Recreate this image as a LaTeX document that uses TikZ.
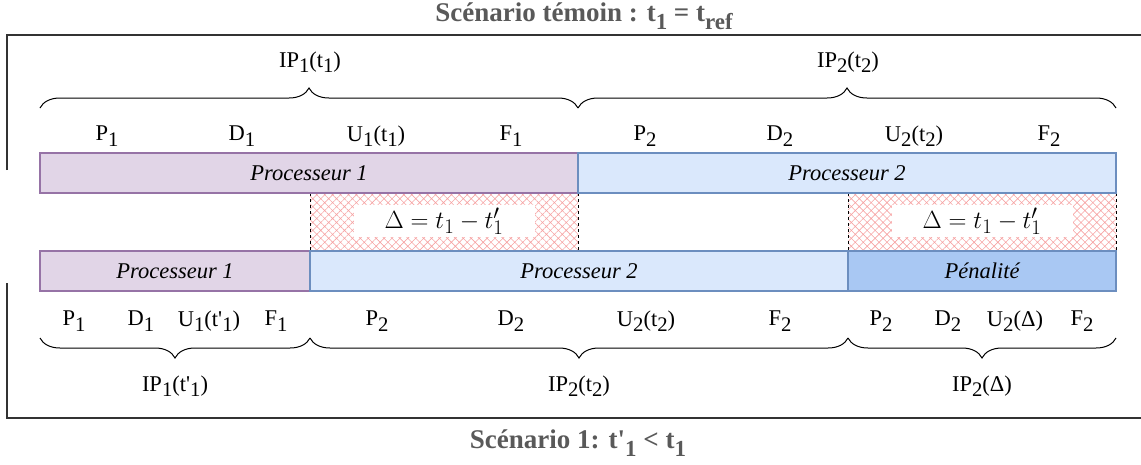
\documentclass[tikz,border=0pt]{standalone}
\usepackage{fontspec}
\setmainfont{Liberation Serif}
\usepackage{graphicx}
\usetikzlibrary{patterns.meta,decorations.pathreplacing}
\definecolor{purfill}{HTML}{E1D5E7}
\definecolor{purdraw}{HTML}{9673A6}
\definecolor{bluefill}{HTML}{DAE8FC}
\definecolor{bluedraw}{HTML}{6C8EBF}
\definecolor{penfill}{HTML}{A9C8F3}
\definecolor{hatchred}{HTML}{F6A3A3}
\definecolor{titlegray}{HTML}{595959}
\definecolor{framegray}{HTML}{333333}
\newcommand\lsub[1]{\raisebox{-0.24em}{\scalebox{0.92}{#1}}}
\newcommand\tsub[1]{\raisebox{-0.3em}{\scalebox{0.85}{#1}}}
\begin{document}
\begin{tikzpicture}[x=1pt,y=-1pt,
  bar/.style={draw, line width=1.1pt, minimum height=40pt, inner sep=0pt, outer sep=0pt, anchor=north west, font=\fontsize{22.5}{26}\selectfont\itshape},
  proc1/.style={bar, fill=purfill, draw=purdraw},
  proc2/.style={bar, fill=bluefill, draw=bluedraw},
  pen/.style={bar, fill=penfill, draw=bluedraw},
  lbl/.style={font=\fontsize{22.5}{26}\selectfont, inner sep=1pt},
  ttl/.style={font=\fontsize{27}{31}\selectfont\bfseries, text=titlegray},
  frame/.style={draw=framegray, line width=1.3pt},
  brc/.style={decorate, decoration={brace, amplitude=20pt}, line width=1pt},
  brcd/.style={brc, decoration={mirror}},
  hatch/.style={pattern={Hatch[angle=45,distance=5.6pt,line width=0.6pt]}, pattern color=hatchred},
  sep/.style={dashed, line width=0.8pt},
  delta/.style={fill=white, minimum width=181pt, minimum height=32pt, inner sep=0pt, font=\fontsize{24.88}{28}\selectfont}
]
\useasboundingbox (0,0) rectangle (1141,464);
% titles
\node[ttl] (ttop) at (584,16) {Scénario témoin : t\tsub{1} = t\tsub{ref}};
\node[ttl] (tbot) at (578,443) {Scénario 1: t\textquotesingle\tsub{1} < t\tsub{1}};
% frames
\draw[frame] (7,170) -- (7,35) -- (1141,35);
\draw[frame] (7,283) -- (7,418) -- (1141,418);
% hatched zones
\fill[hatch] (310,193) rectangle (578,251);
\fill[hatch] (848,193) rectangle (1116,251);
\draw[sep] (310,193) -- (310,251);
\draw[sep] (578,193) -- (578,251);
\draw[sep] (848,193) -- (848,251);
\draw[sep] (1116,193) -- (1116,251);
\node[delta] (d1) at (444,221) {$\Delta = t_1 - t'_1$};
\node[delta] (d2) at (982,221) {$\Delta = t_1 - t'_1$};
% top bars
\node[proc1, minimum width=538pt] (p1a) at (40,153) {Processeur 1};
\node[proc2, minimum width=538pt] (p2a) at (578,153) {Processeur 2};
% bottom bars
\node[proc1, minimum width=270pt] (p1b) at (40,251) {Processeur 1};
\node[proc2, minimum width=538pt] (p2b) at (310,251) {Processeur 2};
\node[pen, minimum width=268pt] (pnb) at (848,251) {Pénalité};
% top labels
\node[lbl] (a1) at (107,136) {P\lsub{1}};
\node[lbl] (a2) at (242,136) {D\lsub{1}};
\node[lbl] (a3) at (376,136) {U\lsub{1}(t\lsub{1})};
\node[lbl] (a4) at (511,136) {F\lsub{1}};
\node[lbl] (a5) at (645,136) {P\lsub{2}};
\node[lbl] (a6) at (780,136) {D\lsub{2}};
\node[lbl] (a7) at (914,136) {U\lsub{2}(t\lsub{2})};
\node[lbl] (a8) at (1049,136) {F\lsub{2}};
\draw[brc] (40,108) -- (578,108);
\draw[brc] (578,108) -- (1116,108);
\node[lbl] (ip1) at (310,62) {IP\lsub{1}(t\lsub{1})};
\node[lbl] (ip2) at (848,62) {IP\lsub{2}(t\lsub{2})};
% bottom labels
\node[lbl] (b1) at (74,321) {P\lsub{1}};
\node[lbl] (b2) at (141,321) {D\lsub{1}};
\node[lbl] (b3) at (209,321) {U\lsub{1}(t\textquotesingle\lsub{1})};
\node[lbl] (b4) at (276,321) {F\lsub{1}};
\node[lbl] (b5) at (377,321) {P\lsub{2}};
\node[lbl] (b6) at (511,321) {D\lsub{2}};
\node[lbl] (b7) at (646,321) {U\lsub{2}(t\lsub{2})};
\node[lbl] (b8) at (780,321) {F\lsub{2}};
\node[lbl] (c1) at (881,321) {P\lsub{2}};
\node[lbl] (c2) at (948,321) {D\lsub{2}};
\node[lbl] (c3) at (1015,321) {U\lsub{2}(Δ)};
\node[lbl] (c4) at (1082,321) {F\lsub{2}};
\draw[brcd] (40,338) -- (310,338);
\draw[brcd] (310,338) -- (848,338);
\draw[brcd] (848,338) -- (1116,338);
\node[lbl] (ip3) at (175,386) {IP\lsub{1}(t\textquotesingle\lsub{1})};
\node[lbl] (ip4) at (579,386) {IP\lsub{2}(t\lsub{2})};
\node[lbl] (ip5) at (982,386) {IP\lsub{2}(Δ)};
\end{tikzpicture}
\end{document}
